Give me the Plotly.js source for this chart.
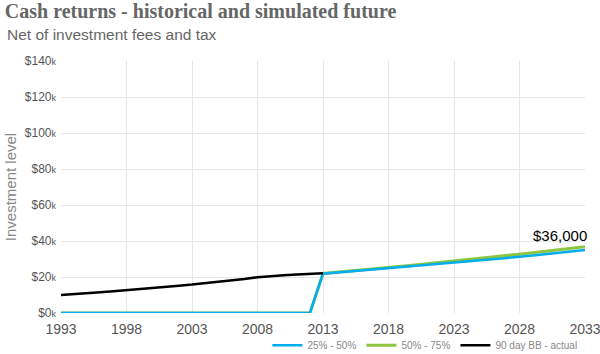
<!DOCTYPE html>
<html><head><meta charset="utf-8">
<script src="https://cdn.plot.ly/plotly-3.0.1.min.js"></script>
<style>html,body{margin:0;padding:0;background:#fff}#chart{width:600px;height:354px}</style>
</head><body><div id="chart"></div>
<script>
const years = [1993,1994,1995,1996,1997,1998,1999,2000,2001,2002,2003,2004,2005,2006,2007,2008,2009,2010,2011,2012,2013,2014,2015,2016,2017,2018,2019,2020,2021,2022,2023,2024,2025,2026,2027,2028,2029,2030,2031,2032,2033];
const band25_50 = [0,0,0,0,0,0,0,0,0,0,0,0,0,0,0,0,0,0,0,0,21800,22400,23000,23600,24200,24800,25400,26000,26600,27200,27800,28400,29100,29800,30500,31200,31900,32600,33400,34200,35000];
const band50_75 = [0,0,0,0,0,0,0,0,0,0,0,0,0,0,0,0,0,0,0,0,22000,22600,23300,24000,24600,25300,26000,26700,27400,28100,28800,29500,30300,31100,31900,32700,33500,34300,35100,35900,36800];
const actualYears = [1993,1994,1995,1996,1997,1998,1999,2000,2001,2002,2003,2004,2005,2006,2007,2008,2009,2010,2011,2012,2013];
const actual = [10000,10400,10900,11500,12100,12800,13400,14000,14600,15200,15800,16500,17200,18000,18900,19900,20600,21000,21400,21800,22100];
const yTicks = [0,20000,40000,60000,80000,100000,120000,140000];
const yTickText = yTicks.map(v => '$' + (v/1000) + '<span style="font-size:9px">k</span>');
const xTicks = [1993,1998,2003,2008,2013,2018,2023,2028,2033];
const finalLabel = '$36,000';

const traces = [
  {x: years, y: band50_75, name: '50% - 75%', mode: 'lines', line: {color: '#8cc63f', width: 3}, legendrank: 2},
  {x: years, y: band25_50, name: '25% - 50%', mode: 'lines', line: {color: '#00aeef', width: 2.5}, legendrank: 1},
  {x: actualYears, y: actual, name: '90 day BB - actual', mode: 'lines', line: {color: '#000000', width: 2.5}, legendrank: 3}
];
const layout = {
  width: 600, height: 354,
  margin: {l: 61, r: 15, t: 61, b: 41},
  paper_bgcolor: '#fff', plot_bgcolor: '#fff',
  font: {family: 'Liberation Sans, Arial, sans-serif', color: '#555'},
  title: {text: '<b>Cash returns - historical and simulated future</b>', x: 0.008, xanchor: 'left', y: 0.99, yanchor: 'top',
    font: {family: 'Liberation Serif, serif', size: 20, color: '#666'}},
  annotations: [
    {xref: 'paper', yref: 'paper', x: -0.107, y: 1.104, xanchor: 'left', yanchor: 'middle', showarrow: false,
     text: 'Net of investment fees and tax', font: {size: 15.5, color: '#666', family: 'Liberation Sans, Arial, sans-serif'}},
    {x: 2033, y: band50_75[band50_75.length-1], xanchor: 'right', yanchor: 'bottom', yshift: 1, xshift: 4, showarrow: false,
     text: finalLabel, font: {size: 15, color: '#000'}}
  ],
  xaxis: {range: [1993, 2033], tickvals: xTicks, ticktext: xTicks.map(String), showgrid: true, gridcolor: '#e6e6e6',
    zeroline: false, showline: false, tickfont: {size: 14, color: '#555'}, ticks: '', ticklabeloverflow: 'allow',
    ticklabelstandoff: 6, automargin: false},
  yaxis: {range: [0, 140000], tickvals: yTicks, ticktext: yTickText, showgrid: true, gridcolor: '#e6e6e6',
    zeroline: false, showline: false, tickfont: {size: 12, color: '#555'}, ticks: '', ticklabelstandoff: 4,
    automargin: false,
    title: {text: 'Investment level', font: {size: 15, color: '#888'}, standoff: 4}},
  showlegend: true,
  legend: {orientation: 'h', x: 0.995, xanchor: 'right', yref: 'container', y: 0.025, yanchor: 'middle', font: {size: 10, color: '#888'},
    bgcolor: 'rgba(0,0,0,0)', itemwidth: 30, tracegroupgap: 0},
};
Plotly.newPlot('chart', traces, layout, {displayModeBar: false, staticPlot: true});
</script></body></html>
